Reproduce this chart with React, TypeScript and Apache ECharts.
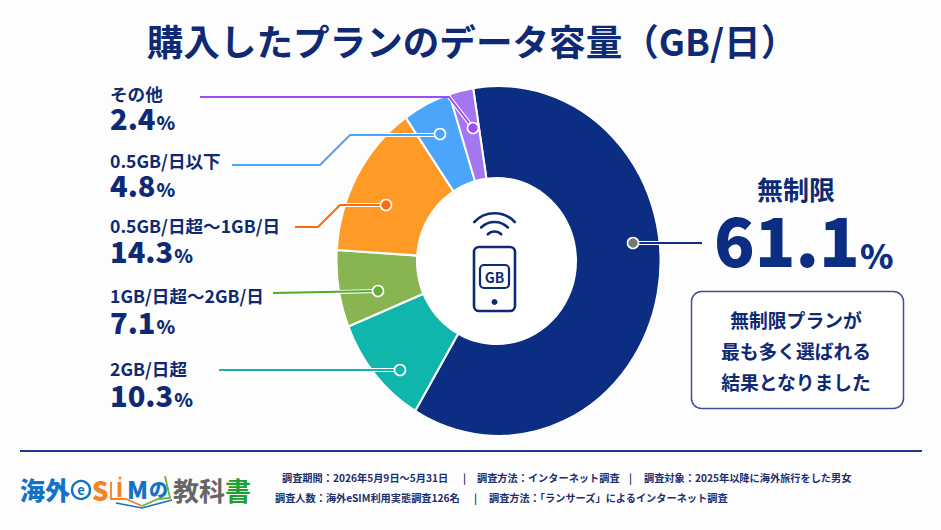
import React, { useEffect, useRef } from "react";
import * as echarts from "echarts";

const categories = ["無制限", "2GB/日超", "1GB/日超～2GB/日", "0.5GB/日超～1GB/日", "0.5GB/日以下", "その他"];
const shares = [61.1, 10.3, 7.1, 14.3, 4.8, 2.4];
const sliceColors = ["#0B2E83", "#10B5AC", "#88B451", "#FF9A26", "#4BA5FA", "#A377F0"];
const lineColors = ["#0B2E83", "#10B5AC", "#4FAB2A", "#FF6A0D", "#4BA5FA", "#A24BF2"];
const dotColors = ["#777777", "#10B5AC", "#62B03A", "#FF6A0D", "#4BA5FA", "#A24BF2"];
const calloutLines = ["無制限プランが", "最も多く選ばれる", "結果となりました"];
const footerRow1 = ["調査期間：2026年5月9日～5月31日", "|", "調査方法：インターネット調査", "|", "調査対象：2025年以降に海外旅行をした男女"];
const footerRow2 = ["調査人数：海外eSIM利用実態調査126名", "|", "調査方法：「ランサーズ」によるインターネット調査"];

const NAVY = "#0F2A74";
const FONT = '"Noto Sans CJK JP", "Noto Sans", sans-serif';
const CX = 498.5;
const CY = 261;
const Y_STRETCH = 1.08;

const Z = 10;
const txt = (text: string, x: number, y: number, size: number, fill = NAVY, align = "left", weight: any = 700) => ({
  type: "text", z: Z, silent: true,
  style: { text, x, y, fill, fontFamily: FONT, fontSize: size, fontWeight: weight, textAlign: align, textVerticalAlign: "middle", align, verticalAlign: "middle" },
});
const val = (v: number, x: number, y: number) => ({
  type: "text", z: Z, silent: true,
  style: {
    text: `{v|${v.toFixed(1)}}{p|%}`, x, y, textAlign: "left", textVerticalAlign: "middle", align: "left", verticalAlign: "middle",
    rich: {
      v: { fontFamily: FONT, fontSize: 29, lineHeight: 25, fontWeight: 900, fill: NAVY, color: NAVY, verticalAlign: "bottom" },
      p: { fontFamily: FONT, fontSize: 19, lineHeight: 20, fontWeight: 900, fill: NAVY, color: NAVY, padding: [0, 0, 0, 1], verticalAlign: "bottom" },
    },
  },
});
const poly = (points: number[][], stroke: string, lineWidth = 2) => ({
  type: "polyline", z: Z, silent: true, shape: { points },
  style: { stroke, lineWidth, fill: "none" },
});
const dot = (x: number, y: number, fill: string) => ({
  type: "circle", z: Z + 1, silent: true, shape: { cx: x, cy: y, r: 5.5 },
  style: { fill, stroke: "#ffffff", lineWidth: 1.6 },
});

// Rows of the label column, in reference order: index into the arrays, name y, value y
const labelRows = [
  [5, 93, 119],
  [4, 160, 186],
  [3, 225, 252],
  [2, 295, 323],
  [1, 368, 396],
];
const leaders: [number, number[][], number[][], number[]][] = [
  [5, [[200, 97], [449, 97], [473, 128]], [[449, 97], [473, 128]], [473, 128]],
  [4, [[232, 165], [320, 165], [350, 135], [439, 135]], [[385, 135], [439, 135]], [440, 134]],
  [3, [[295, 227], [318, 227], [340, 205], [386, 205]], [[342, 205], [386, 205]], [386, 205]],
  [2, [[273, 293], [378, 291]], [[338, 292], [378, 291]], [378, 291]],
  [1, [[219, 370], [400, 370]], [[358, 370], [400, 370]], [400, 370]],
  [0, [[633, 243], [702, 243]], [[633, 243], [660, 243]], [633, 243]],
];

const arcEl = (r: number, half: number) => ({
  type: "arc", z: Z, silent: true,
  shape: { cx: 494.5, cy: 241, r, startAngle: -Math.PI / 2 - half, endAngle: -Math.PI / 2 + half, clockwise: true },
  style: { stroke: NAVY, lineWidth: 2.6, fill: "none", lineCap: "round" },
});

const graphics: any[] = [
  txt("購入したプランのデータ容量（GB/日）", 472, 40, 36.6, NAVY, "center"),
  { type: "ellipse", z: 5, silent: true, shape: { cx: CX - 2, cy: CY, rx: 80.5, ry: 84 }, style: { fill: "#FFFFFF" } },
  // label column
  ...labelRows.flatMap(([i, ny, vy]) => [txt(categories[i], 110, ny, 17.6), val(shares[i], 110, vy)]),
  // leaders
  ...leaders.flatMap(([i, pts, inner, d]) => [
    poly(inner, "#ffffff", 4),
    poly(pts, lineColors[i], 2),
    dot(d[0], d[1], dotColors[i]),
  ]),
  // hero figure
  txt(categories[0], 796, 188, 26, NAVY, "center"),
  {
    type: "text", z: Z, silent: true,
    style: {
      text: `{v|${shares[0].toFixed(1)}}{p|%}`, x: 714, y: 243, textAlign: "left", textVerticalAlign: "middle", align: "left", verticalAlign: "middle",
      rich: {
        v: { fontFamily: FONT, fontSize: 67, lineHeight: 56, fontWeight: 900, fill: "#0B2E83", color: "#0B2E83", verticalAlign: "bottom" },
        p: { fontFamily: FONT, fontSize: 34, lineHeight: 36, fontWeight: 900, fill: "#0B2E83", color: "#0B2E83", verticalAlign: "bottom" },
      },
    },
  },
  {
    type: "rect", z: Z, silent: true, shape: { x: 691.5, y: 291.5, width: 212, height: 117, r: 10 },
    style: { fill: "#ffffff", stroke: "#3C5196", lineWidth: 1.5 },
  },
  ...calloutLines.map((t, i) => txt(t, 796, 319 + i * 31, 18.8, NAVY, "center")),
  // center icon
  arcEl(27.8, 0.82), arcEl(19, 0.78), arcEl(9.5, 0.78),
  {
    type: "rect", z: Z, silent: true, shape: { x: 474, y: 247, width: 41, height: 64, r: 5 },
    style: { fill: "none", stroke: NAVY, lineWidth: 2.6 },
  },
  {
    type: "rect", z: Z, silent: true, shape: { x: 480, y: 265, width: 29, height: 23, r: 4 },
    style: { fill: "none", stroke: NAVY, lineWidth: 2.2 },
  },
  txt("GB", 494.5, 276.5, 14, NAVY, "center"),
  { type: "circle", z: Z, silent: true, shape: { cx: 494.5, cy: 302, r: 3 }, style: { fill: NAVY } },
  // footer rule
  { type: "line", z: Z, silent: true, shape: { x1: 20, y1: 451, x2: 922, y2: 451 }, style: { stroke: "#1F3A93", lineWidth: 2 } },
  // footer text
  ...footerRow1.map((t, i) => txt(t, [282, 463, 477, 629, 644][i], 477, 10.2, "#1C2F6E")),
  ...footerRow2.map((t, i) => txt(t, [275, 474, 489][i], 497, 10.2, "#1C2F6E")),
  // logo
  txt("海外", 20, 489, 25, "#1273C6", "left", 900),
  { type: "circle", z: Z, silent: true, shape: { cx: 81, cy: 490, r: 9 }, style: { fill: "#ffffff", stroke: "#1273C6", lineWidth: 2.4 } },
  txt("e", 81, 489, 13, "#1273C6", "center"),
  txt("S", 92, 489, 26, "#F58220", "left", 900),
  txt("I", 116, 488, 20, "#F58220", "left", 900),
  { type: "circle", z: Z, silent: true, shape: { cx: 120, cy: 478, r: 1.5 }, style: { fill: "#F58220" } },
  txt("M", 127, 488, 24, "#1273C6", "left", 900),
  txt("の", 149, 488, 19, "#1273C6", "left", 900),
  poly([[111, 482], [111, 499], [126, 499], [142, 506]], "#F58220", 1.8),
  poly([[142, 506], [158, 499], [170, 498], [165, 476]], "#6DB33F", 1.8),
  poly([[116, 503], [142, 508], [172, 500]], "#1273C6", 1.6),
  txt("教科", 173, 489, 26, "#666666"),
  txt("書", 225, 489, 26, "#1E9E33"),
];

export default function App() {
  const ref = useRef<HTMLDivElement>(null);
  useEffect(() => {
    document.body.style.margin = "0";
    const chart = echarts.init(ref.current!, undefined, { renderer: "svg" });
    chart.setOption({
      animation: false,
      backgroundColor: "#FDFDFD",
      graphic: { elements: graphics },
      series: [
        {
          type: "pie",
          silent: true,
          center: [CX, CY],
          radius: [76, 162],
          startAngle: 99,
          clockwise: true,
          label: { show: false },
          labelLine: { show: false },
          itemStyle: { borderColor: "#ffffff", borderWidth: 2 },
          data: categories.map((name, i) => ({ name, value: shares[i], itemStyle: { color: sliceColors[i] } })),
        },
      ],
    });
    // The reference's ring is slightly taller than it is wide: a pie is always round, so stretch its sectors.
    const zr: any = chart.getZr();
    zr.storage.getDisplayList(true).forEach((el: any) => {
      if (el.shape && "r0" in el.shape && "startAngle" in el.shape) {
        el.originX = CX;
        el.originY = CY;
        el.scaleY = Y_STRETCH;
        el.markRedraw();
      }
    });
    zr.refreshImmediately();
    return () => chart.dispose();
  }, []);
  return <div ref={ref} style={{ position: "absolute", left: 0, top: 0, width: 941, height: 530 }} />;
}
